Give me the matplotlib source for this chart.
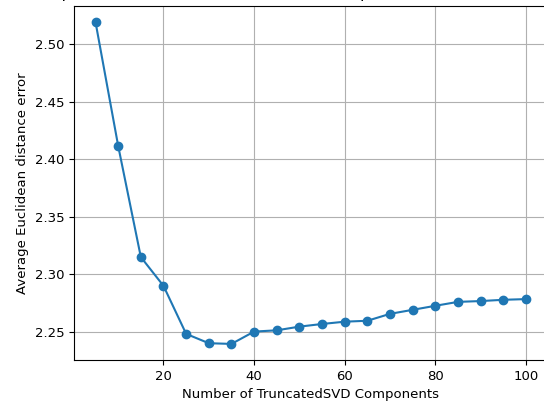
import matplotlib
matplotlib.use("Agg")
import matplotlib.pyplot as plt

n_components = [5, 10, 15, 20, 25, 30, 35, 40, 45, 50,
                55, 60, 65, 70, 75, 80, 85, 90, 95, 100]
avg_error = [2.519, 2.4115, 2.315, 2.290, 2.2483, 2.2402, 2.2396, 2.2503, 2.2514, 2.2546,
             2.2569, 2.2589, 2.2597, 2.2657, 2.2692, 2.2727, 2.2761, 2.2768, 2.2779, 2.2785]

plt.rcParams['font.size'] = 9.5

fig = plt.figure(figsize=(5.44, 4.03), dpi=100)
# axes run past the right edge, as in the cropped reference
ax = fig.add_axes([74/544, 43/403, 473.5/544, 354/403])
ax.plot(n_components, avg_error, marker='o')
ax.set_xlabel('Number of TruncatedSVD Components')
ax.set_ylabel('Average Euclidean distance error')
ax.set_title('Optimal Number of TruncatedSVD Components vs Euclidean Error', fontsize=11.4)
ax.grid(True)
plt.savefig('out.png', dpi=100)
